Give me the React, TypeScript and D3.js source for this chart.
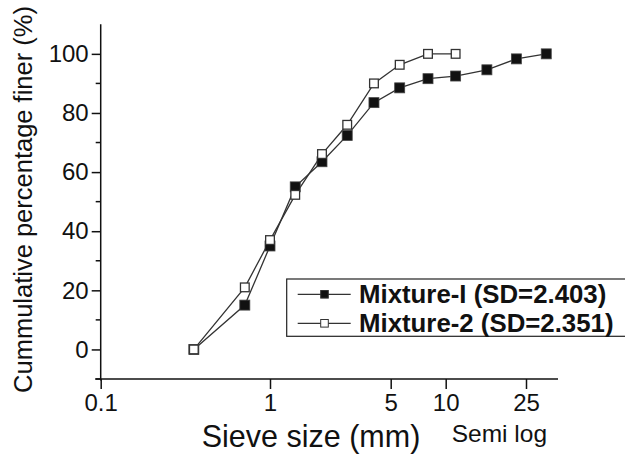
import * as d3 from "d3";
import { useEffect, useRef } from "react";

// ---- data ----
const sieveSizes = [0.355, 0.71, 1, 1.4, 2, 2.8, 4, 5.6, 8, 11.2, 16, 22.4, 31.5];
const mixture1 = [0, 15, 35, 55, 63.5, 72.4, 83.5, 88.5, 91.6, 92.5, 94.6, 98.3, 100];
const mixture2 = [0, 21, 37, 52.3, 66.1, 76, 90, 96.3, 100, 100];
const seriesNames = ["Mixture-I (SD=2.403)", "Mixture-2 (SD=2.351)"];
const xTicks = [0.1, 1, 5, 10, 25];
const yTicks = [0, 20, 40, 60, 80, 100];
const yMinorTicks = [-10, 10, 30, 50, 70, 90];

export default function App() {
    const ref = useRef<SVGSVGElement | null>(null);

    useEffect(() => {
        const width = 625;
        const height = 459;
        const margin = { top: 24.3, right: 67, bottom: 80, left: 100.7 };
        const innerW = width - margin.left - margin.right;
        const innerH = height - margin.top - margin.bottom;
        const font = "'Liberation Sans', Arial, sans-serif";

        const svg = d3.select(ref.current);
        svg.selectAll("*").remove();
        svg.attr("viewBox", `0 0 ${width} ${height}`);

        const g = svg.append("g").attr("transform", `translate(${margin.left},${margin.top})`);

        // "semi log" axis: log segments between the labelled ticks
        const x = d3
            .scaleLog()
            .domain(xTicks)
            .range([0, 169.3, 290, 345, 425.3]);
        const y = d3.scaleLinear().domain([-10, 110]).range([innerH, 0]);

        // ---- y axis ----
        const yAxis = g.append("g")
            .call(d3.axisLeft(y).tickValues(yTicks).tickSize(9).tickSizeOuter(0).tickPadding(3).tickFormat(d => String(d)));
        yAxis.select(".domain").remove();
        yAxis.selectAll("text").attr("font-size", 24).attr("font-family", font).attr("fill", "#111");
        yAxis.selectAll("line").attr("stroke", "#111").attr("stroke-width", 1.5);

        g.append("g")
            .selectAll("line")
            .data(yMinorTicks)
            .join("line")
            .attr("x1", -5)
            .attr("x2", 0)
            .attr("y1", d => y(d))
            .attr("y2", d => y(d))
            .attr("stroke", "#111")
            .attr("stroke-width", 1.5);

        g.append("line")
            .attr("x1", 0).attr("x2", 0)
            .attr("y1", 0).attr("y2", innerH + 1.5)
            .attr("stroke", "#111").attr("stroke-width", 1.5);

        // ---- x axis ----
        const xAxis = g.append("g")
            .attr("transform", `translate(0,${innerH})`)
            .call(d3.axisBottom(x).tickValues(xTicks).tickSize(10).tickSizeOuter(0).tickPadding(5).tickFormat(d => String(d)));
        xAxis.select(".domain").remove();
        xAxis.selectAll("text").attr("font-size", 24).attr("font-family", font).attr("fill", "#111");
        xAxis.selectAll("line").attr("stroke", "#111").attr("stroke-width", 1.5);

        g.append("line")
            .attr("x1", -5.5).attr("x2", innerW)
            .attr("y1", innerH).attr("y2", innerH)
            .attr("stroke", "#111").attr("stroke-width", 1.5);

        // ---- lines ----
        const line = d3.line<number>()
            .x((_, i) => x(sieveSizes[i]))
            .y(d => y(d));

        g.append("path")
            .datum(mixture1)
            .attr("d", line)
            .attr("fill", "none")
            .attr("stroke", "#333")
            .attr("stroke-width", 1.3);

        g.append("path")
            .datum(mixture2)
            .attr("d", line)
            .attr("fill", "none")
            .attr("stroke", "#333")
            .attr("stroke-width", 1.3);

        // ---- markers ----
        const s = 10;
        g.append("g")
            .selectAll("rect")
            .data(mixture1)
            .join("rect")
            .attr("x", (_, i) => x(sieveSizes[i]) - s / 2)
            .attr("y", d => y(d) - s / 2)
            .attr("width", s)
            .attr("height", s)
            .attr("fill", "#111")
            .attr("stroke", "#444")
            .attr("stroke-width", 0.8);

        g.append("g")
            .selectAll("rect")
            .data(mixture2)
            .join("rect")
            .attr("x", (_, i) => x(sieveSizes[i]) - (s - 1.3) / 2)
            .attr("y", d => y(d) - (s - 1.3) / 2)
            .attr("width", s - 1.3)
            .attr("height", s - 1.3)
            .attr("fill", "#fff")
            .attr("stroke", "#333")
            .attr("stroke-width", 1.3);

        // ---- legend ----
        const lg = svg.append("g").attr("transform", "translate(286.7,279)");
        lg.append("rect")
            .attr("width", 360)
            .attr("height", 57.3)
            .attr("fill", "#fff")
            .attr("stroke", "#222")
            .attr("stroke-width", 1.2);

        seriesNames.forEach((name, i) => {
            const cy = 15.3 + i * 29;
            lg.append("line")
                .attr("x1", 11).attr("x2", 64)
                .attr("y1", cy).attr("y2", cy)
                .attr("stroke", "#333").attr("stroke-width", 1.3);
            lg.append("rect")
                .attr("x", 37.8 - 3.8).attr("y", cy - 3.8)
                .attr("width", 7.6).attr("height", 7.6)
                .attr("fill", i === 0 ? "#111" : "#fff")
                .attr("stroke", "#333").attr("stroke-width", 1);
            lg.append("text")
                .attr("x", 72.3)
                .attr("y", cy + 8.6)
                .attr("font-family", font)
                .attr("font-weight", 700)
                .attr("font-size", 25.8)
                .attr("fill", "#111")
                .text(name);
        });

        // ---- titles ----
        svg.append("text")
            .attr("x", 311)
            .attr("y", 446.7)
            .attr("text-anchor", "middle")
            .attr("font-family", font)
            .attr("font-size", 30.5)
            .attr("fill", "#111")
            .text("Sieve size (mm)");

        svg.append("text")
            .attr("x", 451.7)
            .attr("y", 441.7)
            .attr("font-family", font)
            .attr("font-size", 24.5)
            .attr("fill", "#111")
            .text("Semi log");

        svg.append("text")
            .attr("transform", "translate(32,199.5) rotate(-90)")
            .attr("text-anchor", "middle")
            .attr("font-family", font)
            .attr("font-size", 25.5)
            .attr("fill", "#111")
            .text("Cummulative percentage finer (%)");
    }, []);

    return (
        <div style={{ position: "absolute", left: 0, top: 0 }}>
            <svg ref={ref} width={625} height={459} style={{ display: "block", background: "#fff" }} />
        </div>
    );
}
